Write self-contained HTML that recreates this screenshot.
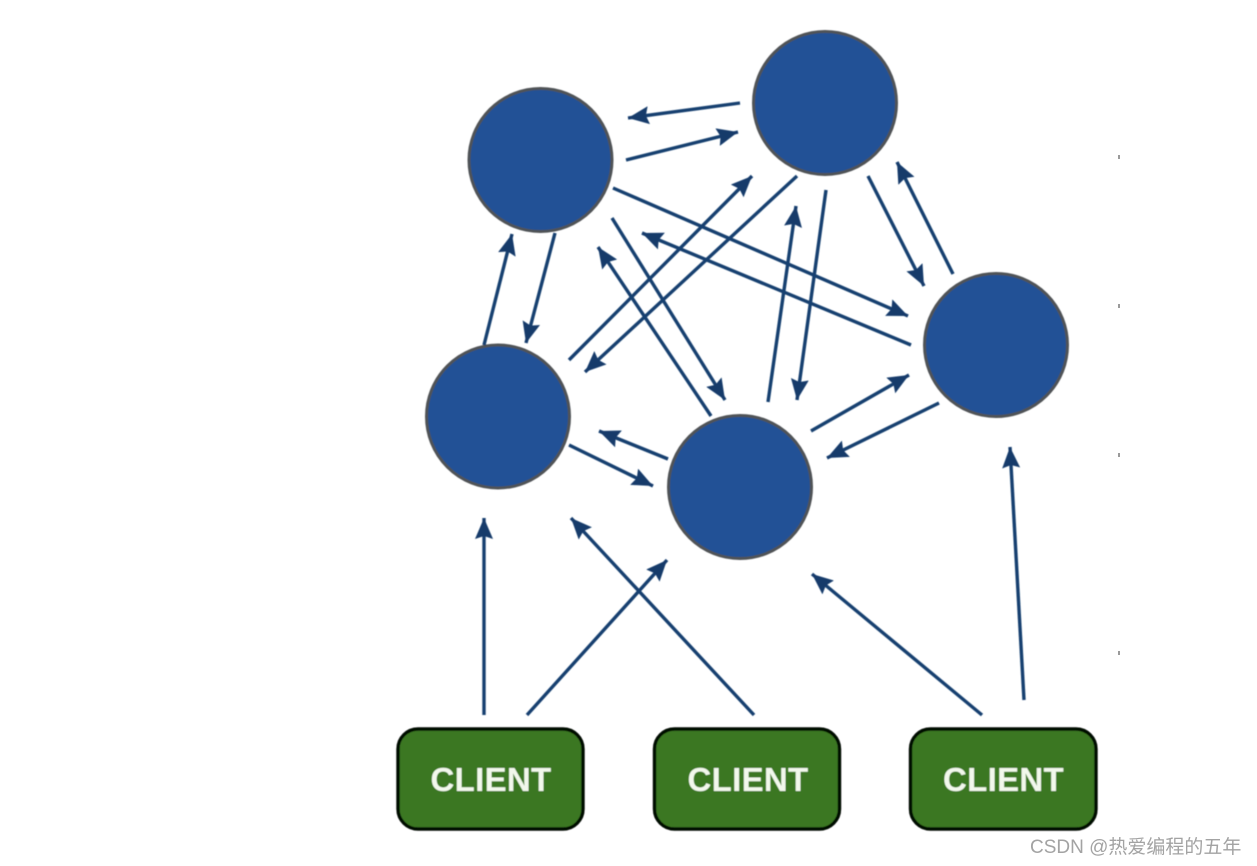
<!DOCTYPE html>
<html>
<head>
<meta charset="utf-8">
<style>
html,body{margin:0;padding:0;background:#fff;width:1257px;height:866px;overflow:hidden}
svg{display:block}
</style>
</head>
<body>
<svg xmlns="http://www.w3.org/2000/svg" width="1257" height="866" viewBox="0 0 1257 866">
<defs>
<marker id="a" markerUnits="userSpaceOnUse" markerWidth="26" markerHeight="20" refX="21" refY="9" orient="auto">
<path d="M0 0 L21 9 L0 18 L3 9 Z" fill="#123a6b" stroke="none"/>
</marker>
<filter id="b" x="-2%" y="-2%" width="104%" height="104%"><feGaussianBlur stdDeviation="0.5"/></filter>
</defs>
<rect width="1257" height="866" fill="#fff"/>
<g filter="url(#b)">
<g fill="#215196" stroke="#4f5257" stroke-width="3">
<circle cx="540.5" cy="160" r="71.5"/>
<circle cx="825" cy="103" r="71.5"/>
<circle cx="996" cy="345" r="71.5"/>
<circle cx="498" cy="416.5" r="71.5"/>
<circle cx="740" cy="487" r="71.5"/>
</g>
<g stroke="#173f70" stroke-width="3.4" fill="none">
<line x1="740" y1="103" x2="628" y2="118" marker-end="url(#a)"/>
<line x1="626" y1="160" x2="738" y2="132" marker-end="url(#a)"/>
<line x1="613" y1="188" x2="908" y2="316" marker-end="url(#a)"/>
<line x1="911" y1="345" x2="642" y2="233" marker-end="url(#a)"/>
<line x1="612" y1="218" x2="725" y2="400" marker-end="url(#a)"/>
<line x1="711" y1="416" x2="598" y2="247" marker-end="url(#a)"/>
<line x1="569" y1="360" x2="752" y2="176" marker-end="url(#a)"/>
<line x1="797" y1="176" x2="585" y2="372" marker-end="url(#a)"/>
<line x1="826" y1="190" x2="797" y2="400" marker-end="url(#a)"/>
<line x1="768" y1="402" x2="796" y2="206" marker-end="url(#a)"/>
<line x1="868" y1="176" x2="924" y2="286" marker-end="url(#a)"/>
<line x1="953" y1="274" x2="897" y2="162" marker-end="url(#a)"/>
<line x1="555" y1="233" x2="526" y2="343" marker-end="url(#a)"/>
<line x1="484" y1="345" x2="512" y2="234" marker-end="url(#a)"/>
<line x1="569" y1="445" x2="653" y2="486" marker-end="url(#a)"/>
<line x1="668" y1="459" x2="599" y2="431" marker-end="url(#a)"/>
<line x1="811" y1="431" x2="909" y2="375" marker-end="url(#a)"/>
<line x1="939" y1="403" x2="827" y2="458" marker-end="url(#a)"/>
<line x1="484" y1="715" x2="484" y2="518" marker-end="url(#a)"/>
<line x1="527" y1="715" x2="667" y2="560" marker-end="url(#a)"/>
<line x1="754" y1="715" x2="571" y2="518" marker-end="url(#a)"/>
<line x1="982" y1="715" x2="812" y2="574" marker-end="url(#a)"/>
<line x1="1024" y1="700" x2="1010" y2="447" marker-end="url(#a)"/>
</g>
<g fill="#3a7723" stroke="#050805" stroke-width="3.4">
<rect x="398" y="729" width="185" height="100" rx="20" ry="20"/>
<rect x="654.5" y="729" width="185" height="100" rx="20" ry="20"/>
<rect x="910.5" y="729" width="185.5" height="100" rx="20" ry="20"/>
</g>
<g font-family="'Liberation Sans',sans-serif" font-weight="700" font-size="33" letter-spacing="0.3" fill="#f2f8ec" text-anchor="middle">
<text x="491" y="791">CLIENT</text>
<text x="748" y="791">CLIENT</text>
<text x="1003.5" y="791">CLIENT</text>
</g>
</g>
<g fill="#9a9a9a">
<rect x="1118" y="155" width="2" height="4"/>
<rect x="1118" y="304" width="2" height="4"/>
<rect x="1118" y="453" width="2" height="4"/>
<rect x="1118" y="651" width="2" height="4"/>
</g>
<text x="1030" y="853" font-family="'Liberation Sans','Noto Sans CJK SC',sans-serif" font-size="19" fill="#a3a3a3">CSDN @热爱编程的五年</text>
</svg>
</body>
</html>
